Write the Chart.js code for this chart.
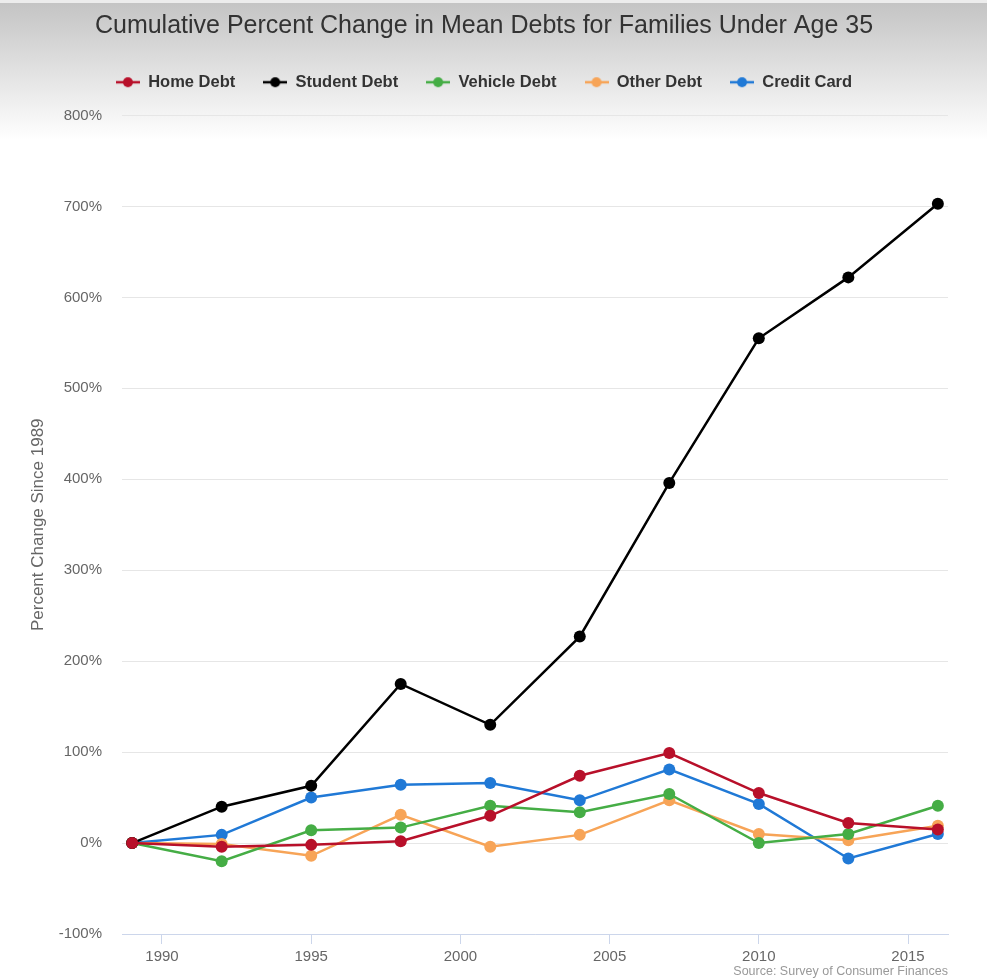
<!DOCTYPE html>
<html>
<head>
<meta charset="utf-8">
<script src="https://cdn.jsdelivr.net/npm/chart.js@4.4.1/dist/chart.umd.min.js"></script>
<style>
  html, body { margin: 0; padding: 0; background: #fff; }
  #wrap { width: 987px; height: 979px; position: relative; }
</style>
</head>
<body>
<div id="wrap"><canvas id="c" width="987" height="979"></canvas></div>
<script>
const years = [1989, 1992, 1995, 1998, 2001, 2004, 2007, 2010, 2013, 2016];
const homeDebt    = [0, -4, -2, 2, 30, 74, 99, 55, 22, 15];
const studentDebt = [0, 40, 63, 175, 130, 227, 396, 555, 622, 703];
const vehicleDebt = [0, -20, 14, 17, 41, 34, 54, 0, 10, 41];
const otherDebt   = [0, -1, -14, 31, -4, 9, 47, 10, 3, 19];
const creditCard  = [0, 9, 50, 64, 66, 47, 81, 43, -17, 10];
const xTicks = [1990, 1995, 2000, 2005, 2010, 2015];
const yTicks = [-100, 0, 100, 200, 300, 400, 500, 600, 700, 800];

const seriesNames = ['Home Debt', 'Student Debt', 'Vehicle Debt', 'Other Debt', 'Credit Card'];
const seriesValues = [homeDebt, studentDebt, vehicleDebt, otherDebt, creditCard];
const seriesColors = ['#b8102a', '#000000', '#45ad45', '#f7a457', '#2079d6'];

const FONT = 'Liberation Sans, Arial, sans-serif';

function legendIcon(color) {
  const cv = document.createElement('canvas');
  cv.width = 24; cv.height = 12;
  const g = cv.getContext('2d');
  g.strokeStyle = color; g.lineWidth = 2.5;
  g.beginPath(); g.moveTo(0, 6); g.lineTo(24, 6); g.stroke();
  g.fillStyle = color;
  g.beginPath(); g.arc(12, 6, 5, 0, Math.PI * 2); g.fill();
  return cv;
}
const icons = seriesColors.map(legendIcon);

const bgPlugin = {
  id: 'bg',
  beforeDraw(chart) {
    const ctx = chart.ctx;
    const grd = ctx.createLinearGradient(0, 3, 0, 140);
    grd.addColorStop(0, '#c4c4c4');
    grd.addColorStop(1, '#ffffff');
    ctx.save();
    ctx.fillStyle = '#ffffff';
    ctx.fillRect(0, 0, chart.width, chart.height);
    ctx.fillStyle = grd;
    ctx.fillRect(0, 3, chart.width, 137);
    ctx.fillStyle = '#ececec';
    ctx.fillRect(0, 0, chart.width, 3);
    ctx.restore();
  }
};

const legendPadPlugin = {
  id: 'legendPad',
  beforeLayout(chart) {
    const lg = chart.legend;
    if (lg && !lg._padPatched) {
      const orig = lg.fit;
      lg.fit = function () { orig.call(this); this.height += 15; };
      lg._padPatched = true;
    }
  }
};

new Chart(document.getElementById('c'), {
  type: 'line',
  data: {
    datasets: seriesNames.map((name, i) => ({
      label: name,
      data: years.map((y, j) => ({ x: y, y: seriesValues[i][j] })),
      borderColor: seriesColors[i],
      backgroundColor: seriesColors[i],
      borderWidth: 2.5,
      pointRadius: 6,
      pointHoverRadius: 6,
      pointBorderWidth: 0,
      tension: 0
    }))
  },
  options: {
    responsive: false,
    animation: false,
    layout: { padding: { left: 20, right: 39, top: 0, bottom: 0 } },
    plugins: {
      title: {
        display: true,
        text: 'Cumulative Percent Change in Mean Debts for Families Under Age 35',
        color: '#333333',
        font: { family: FONT, size: 25, weight: 'normal' },
        padding: { top: 11, bottom: 5 }
      },
      legend: {
        display: true,
        labels: {
          color: '#333333',
          font: { family: FONT, size: 16.5, weight: 'bold' },
          usePointStyle: true,
          pointStyleWidth: 24,
          boxHeight: 12,
          padding: 28,
          generateLabels(chart) {
            return chart.data.datasets.map((ds, i) => ({
              text: ds.label,
              pointStyle: icons[i],
              fillStyle: ds.borderColor,
              strokeStyle: ds.borderColor,
              lineWidth: 0,
              fontColor: '#333333',
              hidden: false,
              datasetIndex: i
            }));
          }
        }
      },
      subtitle: {
        display: true,
        position: 'bottom',
        align: 'end',
        text: 'Source: Survey of Consumer Finances',
        color: '#999999',
        font: { family: FONT, size: 12.5 },
        padding: { top: 0, bottom: 0 }
      },
      tooltip: { enabled: false }
    },
    scales: {
      x: {
        type: 'linear',
        min: 1988.66,
        max: 2016.34,
        afterBuildTicks(scale) { scale.ticks = xTicks.map(v => ({ value: v })); },
        afterFit(scale) { scale.height = 30; },
        ticks: {
          color: '#666666',
          font: { family: FONT, size: 15 },
          padding: 4,
          maxRotation: 0,
          callback: v => String(v)
        },
        grid: { drawOnChartArea: false, drawTicks: true, tickLength: 10, color: '#ccd6eb', lineWidth: 1 },
        border: { display: true, color: '#ccd6eb', width: 1 }
      },
      y: {
        min: -100,
        max: 800,
        afterBuildTicks(scale) { scale.ticks = yTicks.map(v => ({ value: v })); },
        afterFit(scale) { scale.width = 102; },
        ticks: {
          color: '#666666',
          font: { family: FONT, size: 15 },
          padding: 20,
          callback: v => v + '%'
        },
        grid: { drawTicks: false, color: '#e6e6e6', lineWidth: 1 },
        border: { display: false },
        title: {
          display: true,
          text: 'Percent Change Since 1989',
          color: '#666666',
          font: { family: FONT, size: 17 },
          padding: { top: 8, bottom: 0 }
        }
      }
    }
  },
  plugins: [bgPlugin, legendPadPlugin]
});
</script>
</body>
</html>
